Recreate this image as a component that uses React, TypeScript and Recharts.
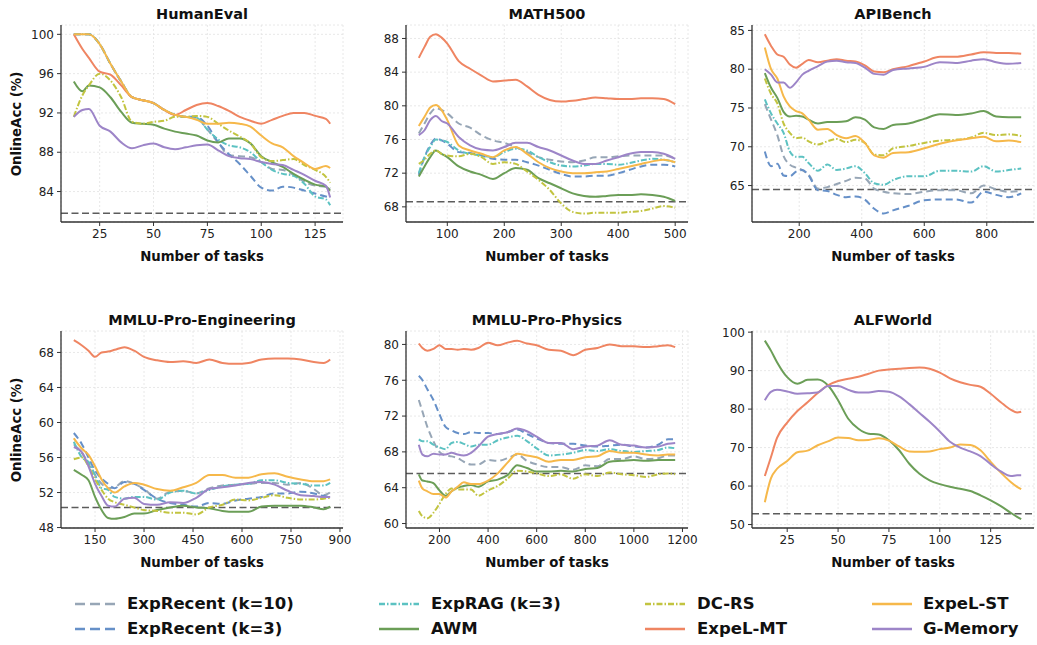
import { LineChart, Line, XAxis, YAxis, CartesianGrid, ReferenceLine } from 'recharts'

const FONT = '"DejaVu Sans", sans-serif'

// ---- HumanEval ----
const HE_X = [13, 17, 20, 25, 30, 35, 40, 45, 50, 55, 60, 65, 70, 75, 80, 85, 90, 95, 100, 105, 110, 115, 120, 125, 130, 132]
const HE_RECENT10 = [100, 100, 100, 99.0, 97.0, 95.2, 93.6, 93.3, 93.0, 92.3, 91.8, 91.6, 91.5, 90.3, 89.0, 87.7, 87.6, 87.5, 87.0, 86.3, 86.2, 85.7, 85.0, 84.6, 84.5, 84.3]
const HE_RECENT3 = [100, 100, 100, 99.0, 97.0, 95.2, 93.6, 93.3, 93.0, 92.3, 91.8, 91.6, 91.6, 90.7, 89.0, 87.8, 86.8, 85.6, 84.4, 84.1, 84.5, 84.4, 84.1, 83.8, 83.5, 83.4]
const HE_RAG = [100, 100, 100, 99.0, 97.0, 95.2, 93.6, 93.3, 93.0, 92.3, 91.8, 91.6, 91.5, 90.3, 89.3, 88.7, 88.5, 88.0, 87.0, 86.2, 85.8, 85.6, 84.8, 83.5, 83.2, 82.6]
const HE_AWM = [95.2, 94.2, 94.8, 94.6, 93.6, 92.1, 91.0, 90.9, 90.8, 90.4, 90.1, 89.9, 89.7, 89.2, 89.0, 89.4, 89.4, 88.9, 87.6, 87.0, 86.5, 85.8, 85.2, 84.7, 84.5, 84.1]
const HE_DCRS = [91.6, 93.8, 94.8, 96.0, 95.3, 93.6, 91.1, 90.9, 91.1, 91.2, 91.6, 91.6, 91.7, 91.6, 90.9, 90.2, 89.6, 88.9, 87.5, 87.1, 87.2, 87.3, 86.7, 86.2, 85.5, 84.9]
const HE_MT = [100, 98.5, 97.6, 96.2, 95.9, 94.8, 93.6, 93.3, 93.0, 92.3, 91.8, 92.3, 92.8, 93.0, 92.7, 92.2, 91.6, 91.2, 90.9, 91.3, 91.7, 92.0, 92.0, 91.7, 91.4, 90.9]
const HE_ST = [100, 100, 100, 99.0, 97.0, 95.2, 93.6, 93.3, 93.0, 92.3, 91.8, 91.6, 91.3, 90.9, 90.9, 91.0, 90.9, 90.6, 89.7, 88.9, 88.5, 87.6, 86.9, 86.3, 86.6, 86.4]
const HE_GMEM = [91.6, 92.3, 92.4, 90.7, 90.1, 89.0, 88.4, 88.7, 88.9, 88.5, 88.3, 88.5, 88.7, 88.8, 88.2, 87.6, 87.4, 87.3, 87.0, 86.8, 86.7, 86.2, 85.7, 85.1, 84.6, 83.4]

// ---- MATH500 ----
const MA_X = [50, 60, 70, 80, 90, 100, 120, 140, 160, 180, 200, 220, 240, 260, 280, 300, 320, 340, 360, 380, 400, 420, 440, 460, 480, 500]
const MA_RECENT10 = [76.7, 77.9, 79.1, 79.7, 79.5, 79.1, 77.9, 77.4, 76.5, 75.9, 75.6, 75.1, 74.5, 73.9, 73.6, 73.4, 73.3, 73.5, 73.9, 73.9, 74.0, 74.1, 74.1, 74.1, 74.1, 73.7]
const MA_RECENT3 = [71.8, 73.9, 75.3, 76.1, 75.9, 75.5, 74.5, 74.4, 74.1, 73.7, 73.6, 73.6, 73.3, 72.9, 72.4, 71.9, 71.6, 71.6, 71.7, 71.7, 72.0, 72.4, 72.8, 73.0, 73.0, 72.8]
const MA_RAG = [72.0, 73.9, 75.1, 76.0, 75.9, 75.7, 74.7, 74.3, 74.1, 73.9, 74.5, 74.9, 74.7, 73.9, 73.3, 72.9, 72.8, 72.9, 73.1, 73.1, 73.0, 73.2, 73.5, 73.7, 73.6, 73.3]
const MA_AWM = [71.6, 72.8, 73.9, 74.7, 74.3, 73.9, 72.8, 72.2, 71.8, 71.3, 72.0, 72.6, 72.4, 71.4, 70.8, 70.2, 69.6, 69.3, 69.2, 69.3, 69.4, 69.4, 69.5, 69.4, 69.2, 68.7]
const MA_DCRS = [73.1, 73.6, 74.3, 74.7, 74.3, 74.1, 74.0, 74.3, 73.9, 73.1, 73.3, 73.1, 72.2, 71.2, 70.0, 68.4, 67.4, 67.2, 67.3, 67.3, 67.3, 67.4, 67.5, 67.8, 68.1, 67.9]
const MA_MT = [85.7, 87.0, 88.2, 88.5, 88.1, 87.4, 85.3, 84.4, 83.6, 82.9, 83.0, 83.1, 82.3, 81.3, 80.7, 80.5, 80.6, 80.8, 81.0, 80.9, 80.8, 80.8, 80.9, 80.9, 80.8, 80.2]
const MA_ST = [77.6, 78.7, 79.8, 80.1, 79.5, 78.3, 75.3, 74.7, 74.3, 73.9, 74.7, 75.1, 74.3, 73.3, 72.6, 72.2, 72.0, 72.0, 72.1, 72.2, 72.5, 72.8, 73.1, 73.4, 73.6, 73.3]
const MA_GMEM = [76.5, 77.1, 78.3, 78.8, 78.2, 77.9, 76.3, 75.3, 74.8, 74.7, 75.1, 75.6, 75.6, 75.1, 74.7, 74.1, 73.5, 73.1, 73.1, 73.5, 73.9, 74.3, 74.5, 74.5, 74.3, 73.7]

// ---- APIBench ----
const AP_X = [90, 110, 130, 150, 170, 190, 210, 230, 260, 290, 320, 350, 380, 410, 440, 470, 500, 550, 600, 650, 700, 750, 790, 830, 870, 910]
const AP_RECENT10 = [75.5, 73.5, 71.5, 68.8, 67.7, 67.3, 67.0, 66.4, 64.6, 64.8, 65.2, 65.6, 66.0, 65.9, 64.6, 64.2, 64.0, 63.9, 64.2, 64.4, 64.4, 64.0, 65.0, 64.5, 64.2, 64.3]
const AP_RECENT3 = [69.4, 67.5, 67.8, 66.3, 66.2, 66.8, 67.0, 66.3, 64.4, 64.3, 63.8, 63.5, 63.6, 63.2, 62.0, 61.4, 61.8, 62.4, 63.1, 63.2, 63.2, 62.8, 64.2, 63.8, 63.5, 64.0]
const AP_RAG = [76.1, 74.3, 73.0, 71.8, 69.4, 68.7, 68.7, 67.9, 66.9, 67.7, 67.0, 67.2, 67.5, 66.6, 65.3, 65.1, 65.7, 66.2, 66.2, 66.9, 66.9, 66.8, 67.5, 66.8, 67.0, 67.2]
const AP_AWM = [79.5, 77.6, 76.3, 74.5, 73.9, 74.0, 73.9, 73.5, 73.0, 73.2, 73.2, 73.3, 73.8, 73.5, 72.5, 72.3, 72.8, 73.0, 73.6, 74.2, 74.1, 74.3, 74.6, 73.9, 73.8, 73.8]
const AP_DCRS = [78.8, 76.8, 75.6, 73.0, 71.8, 71.1, 71.2, 70.7, 70.3, 70.7, 71.0, 70.6, 70.9, 70.5, 69.0, 68.9, 69.8, 70.1, 70.5, 70.8, 70.9, 71.2, 71.8, 71.5, 71.6, 71.4]
const AP_MT = [84.5, 83.0, 81.9, 81.6, 80.6, 80.2, 80.7, 81.2, 80.9, 81.1, 81.3, 81.1, 81.0, 80.5, 79.7, 79.6, 80.0, 80.4, 81.0, 81.6, 81.6, 81.9, 82.2, 82.1, 82.1, 82.0]
const AP_ST = [82.8, 80.0, 78.8, 76.5, 75.2, 74.6, 74.3, 73.5, 72.2, 72.3, 71.5, 71.1, 71.4, 70.5, 68.9, 68.6, 69.2, 69.3, 69.8, 70.4, 70.8, 71.1, 71.3, 70.7, 70.8, 70.6]
const AP_GMEM = [80.0, 79.3, 78.3, 78.3, 77.6, 78.3, 79.3, 79.8, 80.4, 81.0, 81.1, 80.9, 80.8, 80.2, 79.4, 79.3, 79.9, 80.1, 80.3, 80.9, 80.8, 81.1, 81.3, 80.9, 80.7, 80.8]

// ---- MMLU-Pro-Engineering ----
const EN_X = [85, 110, 130, 150, 170, 190, 210, 240, 270, 300, 340, 380, 420, 460, 500, 540, 580, 620, 660, 700, 740, 780, 820, 850, 870]
const EN_RECENT10 = [57.5, 56.5, 55.3, 54.0, 53.0, 52.5, 52.6, 53.3, 53.0, 52.4, 51.3, 52.1, 52.2, 51.9, 52.5, 52.8, 52.9, 53.0, 53.1, 53.1, 52.9, 53.1, 52.4, 51.7, 52.0]
const EN_RECENT3 = [58.8, 57.5, 56.0, 54.5, 53.6, 53.0, 52.5, 53.2, 53.0, 52.3, 51.3, 50.8, 50.6, 50.4, 50.8, 50.7, 51.1, 51.3, 51.5, 51.9, 51.9, 52.1, 51.9, 51.6, 51.5]
const EN_RAG = [57.8, 56.0, 55.5, 54.0, 52.5, 52.3, 51.5, 51.3, 51.5, 51.5, 51.2, 52.0, 52.2, 51.9, 52.3, 52.7, 52.9, 53.0, 53.4, 53.4, 53.1, 53.0, 52.8, 52.8, 53.1]
const EN_AWM = [54.6, 54.0, 53.4, 51.5, 50.0, 49.1, 49.0, 49.2, 49.6, 49.6, 50.0, 50.3, 50.5, 50.3, 50.2, 49.9, 49.8, 49.8, 50.4, 50.5, 50.5, 50.5, 50.3, 50.1, 50.4]
const EN_DCRS = [55.8, 56.0, 55.0, 53.5, 52.3, 51.3, 50.9, 50.6, 50.3, 50.0, 49.9, 49.7, 49.7, 49.5, 50.3, 50.6, 51.2, 51.1, 51.4, 51.7, 51.4, 51.2, 51.2, 51.3, 51.4]
const EN_MT = [69.4, 68.8, 68.2, 67.5, 68.0, 68.1, 68.3, 68.6, 68.2, 67.5, 67.1, 66.9, 67.0, 66.8, 67.2, 66.8, 66.7, 66.8, 67.2, 67.3, 67.3, 67.2, 66.9, 66.8, 67.2]
const EN_ST = [58.2, 57.0, 56.3, 55.0, 53.5, 52.5, 52.0, 52.7, 53.1, 52.9, 52.4, 52.2, 52.6, 53.1, 54.0, 54.0, 53.7, 53.7, 54.1, 54.2, 53.8, 53.5, 53.3, 53.3, 53.5]
const EN_GMEM = [57.2, 56.6, 55.0, 53.0, 51.6, 50.5, 50.4, 51.3, 51.4, 50.7, 50.6, 50.9, 50.8, 51.4, 52.4, 52.6, 52.8, 53.1, 53.2, 52.9, 52.2, 51.7, 51.6, 51.5, 51.5]

// ---- MMLU-Pro-Physics ----
const PH_X = [115, 130, 150, 175, 200, 225, 250, 275, 300, 330, 360, 400, 440, 480, 520, 560, 600, 650, 700, 750, 800, 850, 900, 950, 1000, 1050, 1100, 1140, 1170]
const PH_RECENT10 = [73.8, 72.5, 70.8, 69.2, 68.0, 67.6, 67.5, 67.3, 66.9, 66.6, 66.6, 67.1, 67.0, 67.3, 67.7, 67.0, 66.6, 66.3, 66.3, 66.0, 66.5, 66.4, 67.2, 67.2, 67.5, 67.2, 67.3, 67.6, 67.6]
const PH_RECENT3 = [76.5, 76.0, 75.0, 73.8, 72.2, 70.8, 70.4, 70.1, 70.0, 70.2, 70.1, 70.1, 70.0, 70.2, 70.5, 70.0, 69.5, 69.0, 68.9, 68.9, 68.7, 68.6, 68.7, 68.8, 68.6, 68.5, 68.8, 69.4, 69.4]
const PH_RAG = [69.4, 69.2, 69.2, 68.8, 68.5, 68.3, 69.0, 69.1, 68.9, 68.6, 68.8, 68.8, 69.3, 69.6, 69.8, 69.2, 68.4, 67.6, 67.7, 67.9, 68.2, 68.1, 68.3, 68.1, 68.0, 68.1, 68.2, 68.5, 68.4]
const PH_AWM = [65.5, 64.8, 64.7, 64.5, 63.7, 63.1, 63.6, 64.0, 64.2, 64.3, 64.1, 64.7, 64.9, 65.4, 66.5, 66.2, 65.8, 65.8, 65.9, 65.8, 66.1, 66.2, 66.9, 67.0, 67.1, 67.0, 67.1, 67.1, 67.1]
const PH_DCRS = [61.4, 60.8, 60.6, 61.2, 62.2, 63.3, 63.9, 63.8, 63.8, 63.8, 63.1, 63.7, 64.2, 65.0, 65.9, 65.8, 65.6, 65.3, 65.5, 65.0, 65.5, 65.3, 65.7, 65.5, 65.4, 65.2, 65.5, 65.6, 65.5]
const PH_MT = [80.1, 79.6, 79.3, 79.5, 79.9, 79.5, 79.5, 79.4, 79.5, 79.4, 79.6, 80.2, 79.9, 80.2, 80.4, 80.1, 79.9, 79.4, 79.3, 78.8, 79.4, 79.6, 80.0, 79.8, 79.8, 79.7, 79.8, 79.9, 79.7]
const PH_ST = [64.8, 63.9, 63.6, 63.3, 63.3, 62.9, 63.6, 64.1, 64.6, 64.4, 64.4, 64.8, 65.6, 66.8, 67.8, 67.6, 67.4, 66.9, 67.1, 67.1, 67.4, 67.5, 68.1, 67.9, 67.9, 67.7, 67.6, 67.7, 67.7]
const PH_GMEM = [68.8, 67.7, 67.5, 67.8, 67.7, 67.7, 67.9, 67.7, 67.6, 67.9, 68.6, 69.7, 70.0, 70.2, 70.6, 70.3, 69.7, 69.0, 69.0, 68.3, 68.6, 68.7, 69.3, 68.8, 68.7, 68.5, 68.6, 68.9, 69.0]

// ---- ALFWorld ----
const AL_X = [14, 17, 20, 25, 30, 35, 40, 45, 50, 55, 60, 65, 70, 75, 80, 85, 90, 95, 100, 105, 110, 115, 120, 125, 130, 135, 138, 140]
const AL_AWM = [97.8, 95.2, 92.2, 88.3, 86.6, 87.6, 87.7, 86.2, 82.3, 77.5, 74.9, 73.6, 73.4, 71.9, 69.3, 65.8, 63.2, 61.5, 60.5, 59.8, 59.3, 58.7, 57.6, 56.3, 54.8, 53.0, 52.0, 51.4]
const AL_MT = [62.6, 67.5, 72.5, 76.5, 79.5, 81.8, 84.2, 86.2, 87.3, 87.9, 88.4, 89.2, 90.0, 90.3, 90.5, 90.7, 90.8, 90.5, 89.5, 88.0, 87.0, 86.3, 85.8, 84.0, 81.8, 79.8, 79.1, 79.3]
const AL_ST = [55.8, 62.0, 64.5, 66.5, 68.8, 69.2, 70.6, 71.6, 72.6, 72.5, 71.9, 72.0, 72.4, 71.8, 70.3, 69.0, 68.9, 69.0, 69.6, 70.0, 70.8, 70.7, 69.3, 66.3, 63.5, 61.0, 59.8, 59.2]
const AL_GMEM = [82.3, 84.5, 85.0, 84.6, 84.0, 84.1, 84.3, 86.0, 86.0, 85.0, 84.3, 84.3, 84.7, 84.5, 83.3, 81.3, 79.0, 76.7, 74.2, 71.5, 70.0, 69.0, 67.8, 65.7, 63.8, 62.6, 62.8, 62.8]

// dashed reference level per panel
const BASELINES = [81.8, 68.6, 64.5, 50.3, 65.6, 52.8]

type SeriesKey = 'recent10' | 'recent3' | 'rag' | 'awm' | 'dcrs' | 'mt' | 'st' | 'gmem'

const SERIES: { key: SeriesKey; name: string; color: string; dash?: string; legendDash?: string }[] = [
    { key: 'recent10', name: 'ExpRecent (k=10)', color: '#97a6b6', dash: '7 4', legendDash: '10 5' },
    { key: 'recent3', name: 'ExpRecent (k=3)', color: '#6690c8', dash: '7 4', legendDash: '10 5' },
    { key: 'rag', name: 'ExpRAG (k=3)', color: '#5cc2c2', dash: '6 2 1.5 2', legendDash: '6 2 1.5 2' },
    { key: 'awm', name: 'AWM', color: '#6b9e57' },
    { key: 'dcrs', name: 'DC-RS', color: '#c2c440', dash: '6 2 1.5 2', legendDash: '6 2 1.5 2' },
    { key: 'mt', name: 'ExpeL-MT', color: '#ef8562' },
    { key: 'st', name: 'ExpeL-ST', color: '#f6b84a' },
    { key: 'gmem', name: 'G-Memory', color: '#9d85c8' }
]

type Panel = {
    title: string
    xs: number[]
    series: Partial<Record<SeriesKey, number[]>>
    xDomain: [number, number]
    xTicks: number[]
    yDomain: [number, number]
    yTicks: number[]
    baseline: number
    left: number
    top: number
    yLabel: boolean
}

const PLOT_W = 282
const PLOT_H = 197
const YW = 50
const MT = 6
const MR = 26
const XH = 30

const PANELS: Panel[] = [
    {
        title: 'HumanEval', xs: HE_X,
        series: { recent10: HE_RECENT10, recent3: HE_RECENT3, rag: HE_RAG, awm: HE_AWM, dcrs: HE_DCRS, mt: HE_MT, st: HE_ST, gmem: HE_GMEM },
        xDomain: [7.05, 137.95], xTicks: [25, 50, 75, 100, 125],
        yDomain: [80.9, 100.95], yTicks: [84, 88, 92, 96, 100],
        baseline: BASELINES[0], left: 61, top: 25, yLabel: true
    },
    {
        title: 'MATH500', xs: MA_X,
        series: { recent10: MA_RECENT10, recent3: MA_RECENT3, rag: MA_RAG, awm: MA_AWM, dcrs: MA_DCRS, mt: MA_MT, st: MA_ST, gmem: MA_GMEM },
        xDomain: [27.5, 522.5], xTicks: [100, 200, 300, 400, 500],
        yDomain: [66.2, 89.6], yTicks: [68, 72, 76, 80, 84, 88],
        baseline: BASELINES[1], left: 406, top: 25, yLabel: false
    },
    {
        title: 'APIBench', xs: AP_X,
        series: { recent10: AP_RECENT10, recent3: AP_RECENT3, rag: AP_RAG, awm: AP_AWM, dcrs: AP_DCRS, mt: AP_MT, st: AP_ST, gmem: AP_GMEM },
        xDomain: [49, 951], xTicks: [200, 400, 600, 800],
        yDomain: [60.3, 85.7], yTicks: [65, 70, 75, 80, 85],
        baseline: BASELINES[2], left: 752, top: 25, yLabel: false
    },
    {
        title: 'MMLU-Pro-Engineering', xs: EN_X,
        series: { recent10: EN_RECENT10, recent3: EN_RECENT3, rag: EN_RAG, awm: EN_AWM, dcrs: EN_DCRS, mt: EN_MT, st: EN_ST, gmem: EN_GMEM },
        xDomain: [45.75, 909.25], xTicks: [150, 300, 450, 600, 750, 900],
        yDomain: [47.95, 70.45], yTicks: [48, 52, 56, 60, 64, 68],
        baseline: BASELINES[3], left: 61, top: 331, yLabel: true
    },
    {
        title: 'MMLU-Pro-Physics', xs: PH_X,
        series: { recent10: PH_RECENT10, recent3: PH_RECENT3, rag: PH_RAG, awm: PH_AWM, dcrs: PH_DCRS, mt: PH_MT, st: PH_ST, gmem: PH_GMEM },
        xDomain: [62.25, 1222.75], xTicks: [200, 400, 600, 800, 1000, 1200],
        yDomain: [59.5, 81.5], yTicks: [60, 64, 68, 72, 76, 80],
        baseline: BASELINES[4], left: 406, top: 331, yLabel: false
    },
    {
        title: 'ALFWorld', xs: AL_X,
        series: { awm: AL_AWM, mt: AL_MT, st: AL_ST, gmem: AL_GMEM },
        xDomain: [7.7, 146.3], xTicks: [25, 50, 75, 100, 125],
        yDomain: [49.1, 100.3], yTicks: [50, 60, 70, 80, 90, 100],
        baseline: BASELINES[5], left: 752, top: 331, yLabel: false
    }
]

const tickStyle = { fontSize: 12, fill: '#222', fontFamily: FONT }

function PanelChart({ p }: { p: Panel }) {
    const data = p.xs.map((x, i) => {
        const row: Record<string, number> = { x }
        for (const s of SERIES) {
            const vals = p.series[s.key]
            if (vals) row[s.key] = vals[i]
        }
        return row
    })
    const cx = p.left + PLOT_W / 2
    const bottom = p.top + PLOT_H

    return (
        <>
            <div style={{ position: 'absolute', left: p.left - YW, top: p.top - MT }}>
                <LineChart
                    width={YW + PLOT_W + MR}
                    height={MT + PLOT_H + XH}
                    data={data}
                    margin={{ top: MT, right: MR, bottom: 0, left: 0 }}
                >
                    <CartesianGrid stroke="#e2e2e2" strokeDasharray="2 2" strokeWidth={0.8} />
                    <XAxis
                        dataKey="x"
                        type="number"
                        domain={p.xDomain}
                        ticks={p.xTicks}
                        allowDataOverflow
                        height={XH}
                        tick={tickStyle}
                        tickSize={4}
                        tickMargin={3}
                        axisLine={{ stroke: '#333', strokeWidth: 1.3 }}
                        tickLine={{ stroke: '#333' }}
                    />
                    <YAxis
                        type="number"
                        domain={p.yDomain}
                        ticks={p.yTicks}
                        allowDataOverflow
                        width={YW}
                        tick={tickStyle}
                        tickSize={4}
                        tickMargin={3}
                        axisLine={{ stroke: '#333', strokeWidth: 1.3 }}
                        tickLine={{ stroke: '#333' }}
                    />
                    <ReferenceLine y={p.baseline} stroke="#5c5c5c" strokeWidth={1.5} strokeDasharray="7 3.5" />
                    {SERIES.filter(s => p.series[s.key]).map(s => (
                        <Line
                            key={s.key}
                            dataKey={s.key}
                            type="monotone"
                            stroke={s.color}
                            strokeWidth={2}
                            strokeDasharray={s.dash}
                            dot={false}
                            isAnimationActive={false}
                        />
                    ))}
                </LineChart>
            </div>
            <div style={{
                position: 'absolute', left: cx - 150, width: 300, top: p.top - 21, height: 20,
                lineHeight: '20px', textAlign: 'center', fontWeight: 'bold', fontSize: 14.5, color: '#111'
            }}>
                {p.title}
            </div>
            <div style={{
                position: 'absolute', left: cx - 150, width: 300, top: bottom + 25, height: 20,
                lineHeight: '20px', textAlign: 'center', fontWeight: 'bold', fontSize: 13.3, color: '#111'
            }}>
                Number of tasks
            </div>
            {p.yLabel && (
                <div style={{
                    position: 'absolute', left: 17 - 80, width: 160, top: p.top + PLOT_H / 2 - 10, height: 20,
                    lineHeight: '20px', textAlign: 'center', fontWeight: 'bold', fontSize: 13.3, color: '#111',
                    transform: 'rotate(-90deg)'
                }}>
                    OnlineAcc (%)
                </div>
            )}
        </>
    )
}

const LEGEND_ROWS: SeriesKey[][] = [
    ['recent10', 'rag', 'dcrs', 'st'],
    ['recent3', 'awm', 'mt', 'gmem']
]
const LEGEND_LINE_X = [75, 379, 645, 872]
const LEGEND_TEXT_X = [127, 431, 697, 923]
const LEGEND_ROW_Y = [604, 629]

function LegendBlock() {
    return (
        <>
            {LEGEND_ROWS.map((row, r) =>
                row.map((key, c) => {
                    const s = SERIES.find(v => v.key === key)!
                    const y = LEGEND_ROW_Y[r]
                    return (
                        <div key={key}>
                            <svg
                                width={40}
                                height={10}
                                style={{ position: 'absolute', left: LEGEND_LINE_X[c], top: y - 5 }}
                            >
                                <line x1={0} y1={5} x2={40} y2={5} stroke={s.color} strokeWidth={2.6} strokeDasharray={s.legendDash} />
                            </svg>
                            <div style={{
                                position: 'absolute', left: LEGEND_TEXT_X[c], top: y - 11, height: 22,
                                lineHeight: '22px', fontWeight: 'bold', fontSize: 16.5, color: '#111', whiteSpace: 'nowrap'
                            }}>
                                {s.name}
                            </div>
                        </div>
                    )
                })
            )}
        </>
    )
}

export default function App() {
    return (
        <div style={{
            position: 'absolute', left: 0, top: 0, width: 1037, height: 645,
            background: '#fff', fontFamily: FONT, overflow: 'hidden'
        }}>
            {PANELS.map(p => <PanelChart key={p.title} p={p} />)}
            <LegendBlock />
        </div>
    )
}
